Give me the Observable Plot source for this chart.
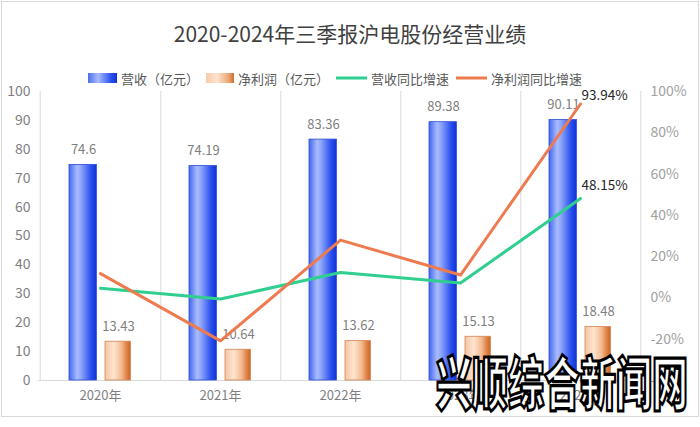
<!DOCTYPE html>
<html>
<head>
<meta charset="utf-8">
<script src="https://cdn.jsdelivr.net/npm/d3@7"></script>
<script src="https://cdn.jsdelivr.net/npm/@observablehq/plot@0.6"></script>
<style>
  body { margin:0; background:#fff; font-family:"Microsoft YaHei","Noto Sans CJK SC","Noto Sans",sans-serif; }
  #wrap { position:relative; width:700px; height:427px; overflow:hidden; }
  #frame { position:absolute; left:1px; top:1px; width:696px; height:414px; border:1px solid #d9d9d9; }
  #title { position:absolute; left:0; top:18px; width:700px; text-align:center; font-size:21px; line-height:30px; color:#404040; }
  #legend { position:absolute; left:88px; top:70px; height:16px; display:flex; align-items:center; font-size:13px; color:#595959; white-space:nowrap; }
  #legend .item { display:flex; align-items:center; margin-right:7px; }
  #legend .sw { display:inline-block; margin-right:4px; }
  #chart { position:absolute; left:0; top:80px; }
  #wm { position:absolute; left:436px; top:351px; font-size:36px; font-weight:900; color:#fff; -webkit-text-stroke:2px #000; transform:scaleY(1.6); transform-origin:left top; line-height:36px; white-space:nowrap; font-family:"Noto Sans CJK SC",sans-serif; }
</style>
</head>
<body>
<div id="wrap">
  <div id="frame"></div>
  <div id="title"></div>
  <div id="legend"></div>
  <div id="chart"></div>
  <div id="wm">兴顺综合新闻网</div>
</div>
<script>
const titleText = "2020-2024年三季报沪电股份经营业绩";
const years = ["2020年", "2021年", "2022年", "2023年", "2024年"];
const revenue = [74.6, 74.19, 83.36, 89.38, 90.11];
const profit = [13.43, 10.64, 13.62, 15.13, 18.48];
const revenueGrowth = [4.7, -0.55, 12.36, 7.22, 48.15];
const profitGrowth = [11.8, -20.78, 28.01, 11.09, 93.94];
const leftTicks = [0, 10, 20, 30, 40, 50, 60, 70, 80, 90, 100];
const rightTicks = [-40, -20, 0, 20, 40, 60, 80, 100];
const seriesNames = ["营收（亿元）", "净利润（亿元）", "营收同比增速", "净利润同比增速"];

const green = "#2fcf8f", orangeLine = "#ee7b4f";

// percent axis is drawn on the same vertical scale: -40%..100% <-> 0..100
const pctToY = p => (p - rightTicks[0]) / (rightTicks[rightTicks.length - 1] - rightTicks[0]) * 100;
const yToPct = v => Math.round(v / 100 * (rightTicks[rightTicks.length - 1] - rightTicks[0]) + rightTicks[0]);

const rows = years.map((year, i) => ({
  year, revenue: revenue[i], profit: profit[i],
  revenueGrowth: revenueGrowth[i], profitGrowth: profitGrowth[i]
}));
const last = rows.slice(-1);

document.getElementById("title").textContent = titleText;

// legend
const legend = document.getElementById("legend");
const swatches = [
  `<svg class="sw" width="29" height="10"><defs><linearGradient id="lgB" x1="0" x2="1"><stop offset="0" stop-color="#4a70ee"/><stop offset="0.35" stop-color="#a9bcff"/><stop offset="0.8" stop-color="#2a50ee"/><stop offset="1" stop-color="#1033d8"/></linearGradient></defs><rect width="29" height="10" fill="url(#lgB)"/></svg>`,
  `<svg class="sw" width="28" height="10"><defs><linearGradient id="lgO" x1="0" x2="1"><stop offset="0" stop-color="#f7cba9"/><stop offset="0.4" stop-color="#fde3cf"/><stop offset="0.8" stop-color="#eea873"/><stop offset="1" stop-color="#cf6f32"/></linearGradient></defs><rect width="28" height="10" fill="url(#lgO)"/></svg>`,
  `<svg class="sw" width="31" height="4"><rect width="31" height="3" y="0.5" fill="${green}"/></svg>`,
  `<svg class="sw" width="31" height="4"><rect width="31" height="3" y="0.5" fill="${orangeLine}"/></svg>`
];
seriesNames.forEach((name, i) => {
  const d = document.createElement("div");
  d.className = "item";
  d.innerHTML = swatches[i] + `<span>${name}</span>`;
  legend.appendChild(d);
});

const chart = Plot.plot({
  width: 700,
  height: 330,
  marginTop: 11,
  marginBottom: 30,
  marginLeft: 38,
  marginRight: 59,
  style: { fontFamily: "'Microsoft YaHei','Noto Sans CJK SC',sans-serif", fontSize: "13px", background: "transparent" },
  x: { type: "band", domain: years, padding: 0 },
  y: { domain: [0, 100] },
  marks: [
    Plot.ruleX([years[0]], { stroke: "#d9d9d9", dx: -60.3 }),
    Plot.ruleX(years, { stroke: "#d9d9d9", dx: 60.3 }),
    Plot.ruleY([0], { stroke: "#d9d9d9" }),
    Plot.barY(rows, { x: "year", y: "revenue", fill: "url(#gBlue)", stroke: "#2b4fd6", strokeWidth: 0.8, insetLeft: 29, insetRight: 63.6 }),
    Plot.barY(rows, { x: "year", y: "profit", fill: "url(#gOrange)", stroke: "#d18452", strokeWidth: 0.8, insetLeft: 65, insetRight: 29.6 }),
    Plot.text(rows, { x: "year", y: "revenue", text: d => String(d.revenue), dx: -17, dy: -15, fill: "#7f7f7f", fontSize: 13 }),
    Plot.text(rows, { x: "year", y: "profit", text: d => String(d.profit), dx: 18, dy: -15, fill: "#7f7f7f", fontSize: 13 }),
    Plot.line(rows, { x: "year", y: d => pctToY(d.revenueGrowth), stroke: green, strokeWidth: 3 }),
    Plot.line(rows, { x: "year", y: d => pctToY(d.profitGrowth), stroke: orangeLine, strokeWidth: 3 }),
    Plot.text(last, { x: "year", y: d => pctToY(d.profitGrowth), text: d => d.profitGrowth.toFixed(2) + "%", textAnchor: "start", dx: 1, dy: -8, fill: "#262626", fontSize: 13.5 }),
    Plot.text(last, { x: "year", y: d => pctToY(d.revenueGrowth), text: d => d.revenueGrowth.toFixed(2) + "%", textAnchor: "start", dx: 1, dy: -13, fill: "#262626", fontSize: 13.5 }),
    Plot.axisY(leftTicks, { anchor: "left", tickSize: 0, tickPadding: 8, label: null, color: "#7f7f7f", fontSize: 14 }),
    Plot.axisY(rightTicks.map(pctToY), { anchor: "right", tickSize: 0, tickPadding: 9, label: null, color: "#a0a0a0", fontSize: 14, tickFormat: v => yToPct(v) + "%" }),
    Plot.axisX(years, { anchor: "bottom", tickSize: 0, tickPadding: 10, label: null, color: "#7f7f7f", fontSize: 13 })
  ]
});

const defs = d3.select(chart).insert("defs", ":first-child");
const gb = defs.append("linearGradient").attr("id", "gBlue").attr("x1", 0).attr("x2", 1).attr("y1", 0).attr("y2", 0);
[[0, "#4368ee"], [0.3, "#a9bcff"], [0.45, "#8aa3fb"], [0.8, "#2a50ee"], [1, "#0f33d8"]]
  .forEach(([o, c]) => gb.append("stop").attr("offset", o).attr("stop-color", c));
const go = defs.append("linearGradient").attr("id", "gOrange").attr("x1", 0).attr("x2", 1).attr("y1", 0).attr("y2", 0);
[[0, "#f6c6a1"], [0.35, "#fde3cf"], [0.65, "#f3bb90"], [0.88, "#dc7c3e"], [1, "#c8692a"]]
  .forEach(([o, c]) => go.append("stop").attr("offset", o).attr("stop-color", c));

document.getElementById("chart").appendChild(chart);
</script>
</body>
</html>
